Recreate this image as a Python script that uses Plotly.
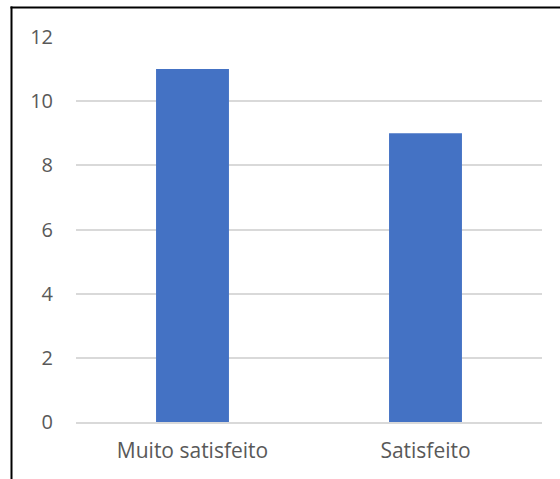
import plotly.graph_objects as go

categories = ["Muito satisfeito", "Satisfeito"]
values = [11, 9]
y_ticks = [0, 2, 4, 6, 8, 10, 12]

W, H = 560, 479
ml, mr, mt, mb = 76, 18, 37, 57
pw, ph = W - ml - mr, H - mt - mb

fig = go.Figure(go.Bar(x=categories, y=values, marker=dict(color="#4472C4", line=dict(width=0)), width=0.313))

def px_to_paper_x(px):
    return (px - ml) / pw

def px_to_paper_y(py):
    return (H - mb - py) / ph

fig.update_layout(
    width=W, height=H,
    margin=dict(l=ml, r=mr, t=mt, b=mb),
    plot_bgcolor="white", paper_bgcolor="white",
    font=dict(family="Open Sans", size=20, color="#595959"),
    showlegend=False,
    xaxis=dict(showgrid=False, showline=True, linecolor="#d9d9d9", linewidth=1.5, ticks="",
               ticklabelstandoff=9, tickfont=dict(size=21, color="#595959")),
    yaxis=dict(range=[0, 12], tickvals=y_ticks, showgrid=True, gridcolor="#d9d9d9", gridwidth=1.5,
               zeroline=False, ticks="", ticklabelstandoff=22, tickfont=dict(size=20, color="#595959")),
    shapes=[
        dict(type="line", xref="paper", yref="paper", x0=px_to_paper_x(10.5), x1=px_to_paper_x(W + 5),
             y0=px_to_paper_y(7.5), y1=px_to_paper_y(7.5), line=dict(color="black", width=2)),
        dict(type="line", xref="paper", yref="paper", x0=px_to_paper_x(11.5), x1=px_to_paper_x(11.5),
             y0=px_to_paper_y(6.5), y1=px_to_paper_y(H + 5), line=dict(color="black", width=2)),
    ],
)

fig.write_html("out.html")
